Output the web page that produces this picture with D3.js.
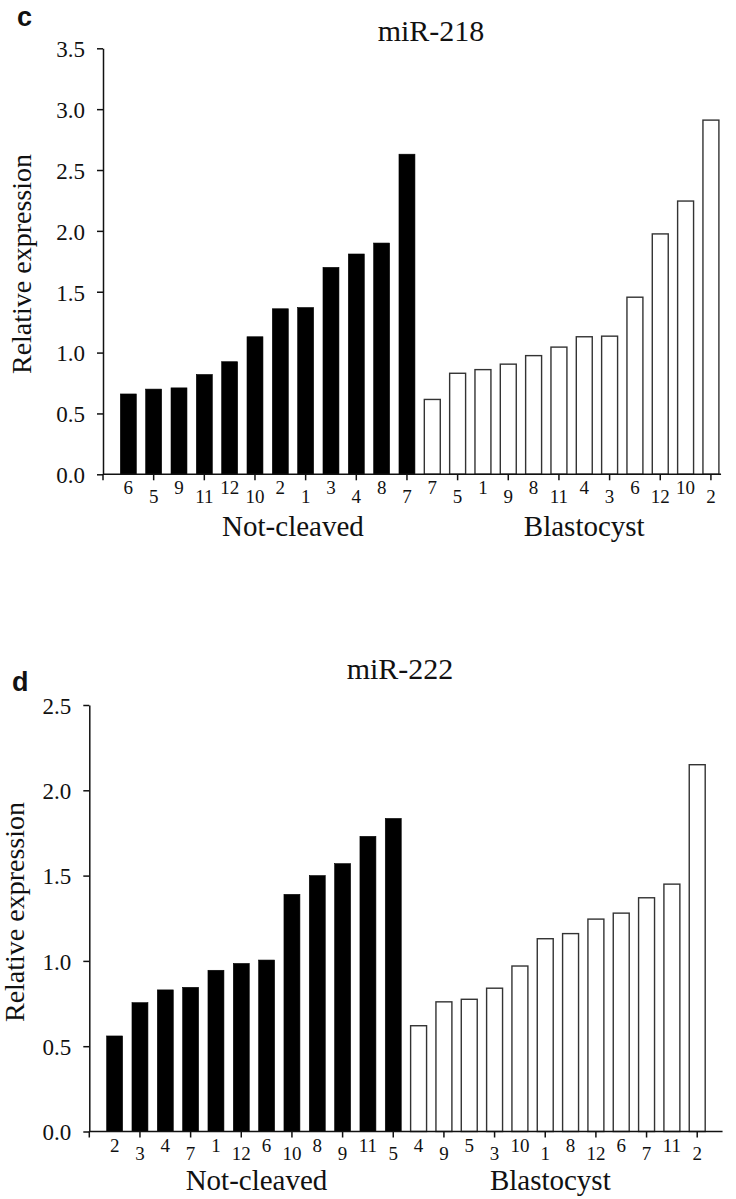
<!DOCTYPE html>
<html>
<head>
<meta charset="utf-8">
<script src="https://cdn.jsdelivr.net/npm/d3@7"></script>
<style>
  html, body { margin: 0; padding: 0; background: #fff; }
  svg { display: block; }
  .serif { font-family: "Liberation Serif", "Times New Roman", serif; fill: #111; }
  .panel-letter { font-family: "Liberation Sans", Arial, sans-serif; font-weight: bold; fill: #111; }
</style>
</head>
<body>
<svg id="fig" width="736" height="1199"></svg>
<script>
// ---- miR-218 (panel c) ----
const cNotCleavedIds    = ["6", "5", "9", "11", "12", "10", "2", "1", "3", "4", "8", "7"];
const cNotCleavedValues = [0.66, 0.70, 0.71, 0.82, 0.925, 1.13, 1.36, 1.37, 1.70, 1.81, 1.90, 2.63];
const cBlastocystIds    = ["7", "5", "1", "9", "8", "11", "4", "3", "6", "12", "10", "2"];
const cBlastocystValues = [0.615, 0.83, 0.86, 0.905, 0.975, 1.045, 1.13, 1.135, 1.455, 1.975, 2.245, 2.91];
const cYTicks = [0, 0.5, 1.0, 1.5, 2.0, 2.5, 3.0, 3.5];

// ---- miR-222 (panel d) ----
const dNotCleavedIds    = ["2", "3", "4", "7", "1", "12", "6", "10", "8", "9", "11", "5"];
const dNotCleavedValues = [0.56, 0.755, 0.83, 0.845, 0.945, 0.985, 1.005, 1.39, 1.50, 1.57, 1.73, 1.835];
const dBlastocystIds    = ["4", "9", "5", "3", "10", "1", "8", "12", "6", "7", "11", "2"];
const dBlastocystValues = [0.62, 0.76, 0.775, 0.84, 0.97, 1.13, 1.16, 1.245, 1.28, 1.37, 1.45, 2.15];
const dYTicks = [0, 0.5, 1.0, 1.5, 2.0, 2.5];

const groupNames = ["Not-cleaved", "Blastocyst"];

const svg = d3.select("#fig");
const fmt = d3.format(".1f");

function drawPanel(p) {
  const g = svg.append("g");

  // one record per bar, Not-cleaved first then Blastocyst
  const rows = [
    ...p.ncIds.map((id, i) => ({ key: "n" + i, id, v: p.ncVals[i], group: 0 })),
    ...p.blIds.map((id, i) => ({ key: "b" + i, id, v: p.blVals[i], group: 1 }))
  ];

  const step = p.step;
  const inner = 0.37;
  const x = d3.scaleBand()
    .domain(rows.map(r => r.key))
    .range([p.x0, p.x0 + 25 * step])
    .paddingInner(inner)
    .paddingOuter((1 + inner) / 2);
  const xPos = d3.scaleLinear().domain([0, 25]).range([p.x0, p.x0 + 25 * step]);

  const y = d3.scaleLinear().domain([0, p.yMax]).range([p.y0, p.yTop]);

  // bars
  g.selectAll("rect.bar")
    .data(rows)
    .join("rect")
    .attr("class", "bar")
    .attr("x", r => x(r.key))
    .attr("width", x.bandwidth())
    .attr("y", r => y(r.v))
    .attr("height", r => y(0) - y(r.v))
    .attr("fill", r => r.group === 0 ? "#000" : "#fff")
    .attr("stroke", r => r.group === 0 ? "#000" : "#333")
    .attr("stroke-width", r => r.group === 0 ? 0.6 : 1.4);

  // y axis
  const yAxis = d3.axisLeft(y)
    .tickValues(p.yTicks)
    .tickFormat(fmt)
    .tickSize(6)
    .tickSizeOuter(0)
    .tickPadding(12);
  const ya = g.append("g")
    .attr("transform", `translate(${p.x0},0)`)
    .call(yAxis);
  ya.select(".domain").attr("stroke", "#111").attr("stroke-width", 1.5);
  ya.selectAll(".tick line").attr("stroke", "#111").attr("stroke-width", 1.5);
  ya.selectAll(".tick text")
    .attr("class", "serif")
    .attr("font-size", 23)
    .attr("dy", "0.36em");

  // x baseline
  g.append("line")
    .attr("x1", p.x0).attr("x2", xPos(p.xEnd))
    .attr("y1", p.y0).attr("y2", p.y0)
    .attr("stroke", "#111").attr("stroke-width", 1.5);

  // ticks: origin plus every second bar
  const tickXs = [p.x0, ...rows.filter((r, i) => i % 2 === 1).map(r => x(r.key) + x.bandwidth() / 2)];
  g.selectAll("line.xtick")
    .data(tickXs)
    .join("line")
    .attr("class", "xtick")
    .attr("x1", d => d).attr("x2", d => d)
    .attr("y1", p.y0).attr("y2", p.y0 + 6)
    .attr("stroke", "#111").attr("stroke-width", 1.5);

  // staggered sample ids under the bars
  g.selectAll("text.xlab")
    .data(rows)
    .join("text")
    .attr("class", "serif xlab")
    .attr("font-size", 19)
    .attr("text-anchor", "middle")
    .attr("x", r => x(r.key) + x.bandwidth() / 2)
    .attr("y", (r, i) => p.y0 + (i % 2 === 0 ? 20 : 28.5))
    .text(r => r.id);

  // group names
  g.selectAll("text.grp")
    .data(groupNames)
    .join("text")
    .attr("class", "serif grp")
    .attr("font-size", 29)
    .attr("text-anchor", "middle")
    .attr("x", (d, i) => xPos(p.groupAt[i]))
    .attr("y", p.groupY)
    .text(d => d);

  // title
  g.append("text")
    .attr("class", "serif")
    .attr("font-size", 30)
    .attr("text-anchor", "middle")
    .attr("x", p.titleX)
    .attr("y", p.titleY)
    .text(p.title);

  // y axis title
  g.append("text")
    .attr("class", "serif")
    .attr("font-size", 28)
    .attr("text-anchor", "middle")
    .attr("transform", `translate(${p.yLabelX},${p.yLabelY}) rotate(-90)`)
    .text("Relative expression");

  // panel letter
  g.append("text")
    .attr("class", "panel-letter")
    .attr("font-size", 27)
    .attr("x", p.letterX)
    .attr("y", p.letterY)
    .text(p.letter);
}

drawPanel({
  letter: "c", letterX: 17, letterY: 26,
  title: "miR-218", titleX: 431, titleY: 41,
  ncIds: cNotCleavedIds, ncVals: cNotCleavedValues,
  blIds: cBlastocystIds, blVals: cBlastocystValues,
  yTicks: cYTicks, yMax: 3.5,
  x0: 103, step: 25.33, xEnd: 24.4,
  y0: 474.3, yTop: 48.3,
  groupAt: [7.5, 19.0], groupY: 536,
  yLabelX: 31, yLabelY: 264
});

drawPanel({
  letter: "d", letterX: 12, letterY: 691,
  title: "miR-222", titleX: 400, titleY: 679,
  ncIds: dNotCleavedIds, ncVals: dNotCleavedValues,
  blIds: dBlastocystIds, blVals: dBlastocystValues,
  yTicks: dYTicks, yMax: 2.5,
  x0: 89.3, step: 25.33, xEnd: 25.0,
  y0: 1131.5, yTop: 705,
  groupAt: [6.6, 18.2], groupY: 1190,
  yLabelX: 24, yLabelY: 912
});
</script>
</body>
</html>
